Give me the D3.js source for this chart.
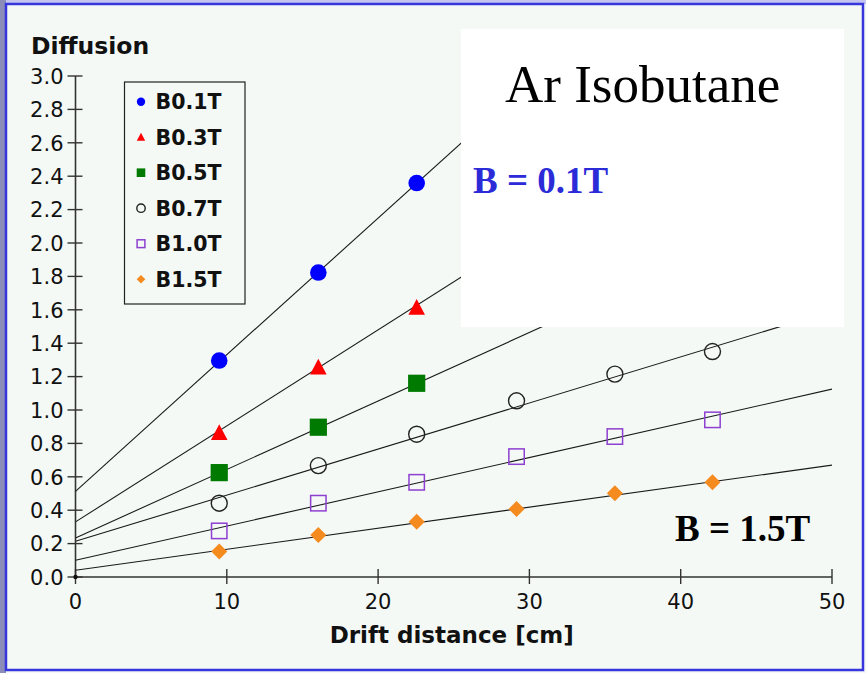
<!DOCTYPE html>
<html>
<head>
<meta charset="utf-8">
<script src="https://cdn.jsdelivr.net/npm/d3@7"></script>
<style>
  html, body { margin: 0; padding: 0; background: #f4f9f6; }
  svg { display: block; }
</style>
</head>
<body>
<svg id="chart" width="866" height="673"></svg>
<script>
// Drift distances [cm] where diffusion was measured
const drift = [9.5, 16.05, 22.55, 29.15, 35.65, 42.1];

// Field settings, in legend order
const seriesNames = ["B0.1T", "B0.3T", "B0.5T", "B0.7T", "B1.0T", "B1.5T"];

// Measured diffusion per field setting (low fields only reach 22.5 cm)
const diffB01 = [1.296, 1.823, 2.359];
const diffB03 = [0.862, 1.255, 1.612];
const diffB05 = [0.625, 0.897, 1.160];
const diffB07 = [0.442, 0.667, 0.855, 1.055, 1.215, 1.350];
const diffB10 = [0.276, 0.442, 0.567, 0.721, 0.841, 0.941];
const diffB15 = [0.152, 0.252, 0.331, 0.407, 0.501, 0.567];

// Small measurement uncertainties (visible as ticks in open markers)
const errB07 = [0.012, 0.012, 0.012, 0.012, 0.012, 0.012];
const errB10 = [0.012, 0.012, 0.012, 0.012, 0.012, 0.012];

// Linear fit per field setting: diffusion = intercept + slope * drift
const fitIntercept = [0.513, 0.330, 0.234, 0.214, 0.100, 0.040];
const fitSlope     = [0.0818, 0.0575, 0.0410, 0.0276, 0.0205, 0.0126];

// Axis ticks
const xTicks = [0, 10, 20, 30, 40, 50];
const yTicks = [0.0, 0.2, 0.4, 0.6, 0.8, 1.0, 1.2, 1.4, 1.6, 1.8, 2.0, 2.2, 2.4, 2.6, 2.8, 3.0];

const seriesValues = [diffB01, diffB03, diffB05, diffB07, diffB10, diffB15];
const seriesErrors = [null, null, null, errB07, errB10, null];

const styles = [
  { shape: "circle",   fill: "#0000ff", stroke: "none",    errColor: "#000" },
  { shape: "triangle", fill: "#ff0000", stroke: "none",    errColor: "#000" },
  { shape: "square",   fill: "#007a00", stroke: "none",    errColor: "#000" },
  { shape: "ocircle",  fill: "none",    stroke: "#222222", errColor: "#222" },
  { shape: "osquare",  fill: "none",    stroke: "#8e3fd0", errColor: "#8e3fd0" },
  { shape: "diamond",  fill: "#f58a1f", stroke: "none",    errColor: "#000" }
];

const svg = d3.select("#chart");
const W = 866, H = 673;

// Page background and frame
svg.append("rect").attr("x", 0).attr("y", 0).attr("width", W).attr("height", H).attr("fill", "#f4f9f6");
svg.append("rect").attr("x", 0).attr("y", 0).attr("width", W).attr("height", 4).attr("fill", "#c3c5f0");
svg.append("rect").attr("x", 0).attr("y", 0).attr("width", 6).attr("height", H).attr("fill", "#8b8db8");
svg.append("rect").attr("x", 6).attr("y", 4).attr("width", W - 9).attr("height", H - 7)
  .attr("fill", "none").attr("stroke", "#3636dc").attr("stroke-width", 2.5);

const x = d3.scaleLinear().domain([0, 50]).range([75.5, 832]);
const y = d3.scaleLinear().domain([0, 3]).range([577, 76]);

const axisColor = "#333333";
const tickFont = "'DejaVu Sans', Verdana, sans-serif";

// Plot-area clip so fit lines stop at the axis range
svg.append("defs").append("clipPath").attr("id", "plot-clip")
  .append("rect").attr("x", x(0)).attr("y", y(3)).attr("width", x(50) - x(0)).attr("height", y(0) - y(3));

// Y axis
const gy = svg.append("g");
gy.append("line").attr("x1", x(0)).attr("x2", x(0)).attr("y1", y(0)).attr("y2", y(3))
  .attr("stroke", axisColor).attr("stroke-width", 1.6);
gy.selectAll("line.tick").data(yTicks).join("line").attr("class", "tick")
  .attr("x1", x(0) - 8).attr("x2", x(0) + 7)
  .attr("y1", d => y(d)).attr("y2", d => y(d))
  .attr("stroke", axisColor).attr("stroke-width", 1.4);
gy.selectAll("text").data(yTicks).join("text")
  .attr("x", 63.5).attr("y", d => y(d) + 7.8)
  .attr("text-anchor", "end")
  .attr("font-family", tickFont).attr("font-size", 21)
  .attr("fill", "#111")
  .text(d => d3.format(".1f")(d));

// X axis
const gx = svg.append("g");
gx.append("line").attr("x1", x(0)).attr("x2", x(50)).attr("y1", y(0)).attr("y2", y(0))
  .attr("stroke", axisColor).attr("stroke-width", 1.6);
gx.selectAll("line.tick").data(xTicks).join("line").attr("class", "tick")
  .attr("x1", d => x(d)).attr("x2", d => x(d))
  .attr("y1", y(0) - 8).attr("y2", y(0) + 7)
  .attr("stroke", axisColor).attr("stroke-width", 1.4);
gx.selectAll("text").data(xTicks).join("text")
  .attr("x", d => x(d)).attr("y", 609)
  .attr("text-anchor", "middle")
  .attr("font-family", tickFont).attr("font-size", 21)
  .attr("fill", "#111")
  .text(d => d);
svg.append("circle").attr("cx", x(0)).attr("cy", y(0)).attr("r", 2.2).attr("fill", "#111");

// Axis titles
svg.append("text").attr("x", 31).attr("y", 54)
  .attr("font-family", tickFont).attr("font-weight", "bold").attr("font-size", 23.5)
  .attr("fill", "#111").text("Diffusion");
svg.append("text").attr("x", (x(0) + x(50)) / 2 - 2).attr("y", 643)
  .attr("text-anchor", "middle")
  .attr("font-family", tickFont).attr("font-weight", "bold").attr("font-size", 23)
  .attr("fill", "#111").text("Drift distance [cm]");

// Fit lines across the full drift range
const gl = svg.append("g").attr("clip-path", "url(#plot-clip)");
seriesNames.forEach((name, i) => {
  const pts = [0, 50].map(d => [x(d), y(fitIntercept[i] + fitSlope[i] * d)]);
  gl.append("path").attr("d", d3.line()(pts))
    .attr("fill", "none").attr("stroke", "#1a1a1a").attr("stroke-width", 1.1);
});

// Marker drawing helper
function marker(g, shape, cx, cy, s, st) {
  if (shape === "circle" || shape === "ocircle") {
    g.append("circle").attr("cx", cx).attr("cy", cy).attr("r", s)
      .attr("fill", st.fill).attr("stroke", st.stroke).attr("stroke-width", 1.4);
  } else if (shape === "square" || shape === "osquare") {
    const o = shape === "osquare" ? 0.6 : 0;
    g.append("rect").attr("x", cx - s + o).attr("y", cy - s + o)
      .attr("width", 2 * s - 2 * o).attr("height", 2 * s - 2 * o)
      .attr("fill", st.fill).attr("stroke", st.stroke).attr("stroke-width", 1.5);
  } else if (shape === "triangle") {
    const pts = [[cx, cy - s * 1.05], [cx + s, cy + s * 0.85], [cx - s, cy + s * 0.85]];
    g.append("path").attr("d", d3.line()(pts) + "Z").attr("fill", st.fill);
  } else if (shape === "diamond") {
    const pts = [[cx, cy - s], [cx + s, cy], [cx, cy + s], [cx - s, cy]];
    g.append("path").attr("d", d3.line()(pts) + "Z").attr("fill", st.fill);
  }
}

// Data points
const gp = svg.append("g");
const plotSize = { circle: 8.3, triangle: 8.3, square: 8.6, ocircle: 8.0, osquare: 8.3, diamond: 8.0 };
seriesValues.forEach((vals, i) => {
  const st = styles[i];
  vals.forEach((v, j) => {
    const cx = x(drift[j]), cy = y(v);
    marker(gp, st.shape, cx, cy, plotSize[st.shape], st);
    const err = seriesErrors[i];
    if (err) {
      gp.append("line").attr("x1", cx).attr("x2", cx)
        .attr("y1", y(v + err)).attr("y2", y(v - err))
        .attr("stroke", st.errColor).attr("stroke-width", 1.3);
    }
  });
});

// Annotation panel
svg.append("rect").attr("x", 461).attr("y", 29).attr("width", 383).attr("height", 298).attr("fill", "#ffffff");
svg.append("text").attr("x", 505).attr("y", 101.5)
  .attr("font-family", "'Liberation Serif', 'Times New Roman', serif").attr("font-size", 53)
  .attr("fill", "#000").text("Ar Isobutane");
svg.append("text").attr("x", 473).attr("y", 193)
  .attr("font-family", "'Liberation Serif', 'Times New Roman', serif").attr("font-weight", "bold").attr("font-size", 37)
  .attr("fill", "#2b2bd8").text("B = 0.1T");
svg.append("text").attr("x", 675).attr("y", 540.5)
  .attr("font-family", "'Liberation Serif', 'Times New Roman', serif").attr("font-weight", "bold").attr("font-size", 37)
  .attr("fill", "#000").text("B = 1.5T");

// Legend
const gLeg = svg.append("g");
gLeg.append("rect").attr("x", 124.5).attr("y", 82).attr("width", 120.5).attr("height", 222)
  .attr("fill", "none").attr("stroke", "#222").attr("stroke-width", 1.2);
const legSize = { circle: 4.2, triangle: 4.2, square: 4.3, ocircle: 4.2, osquare: 4.5, diamond: 4.3 };
seriesNames.forEach((name, i) => {
  const cy = 101.7 + i * 35.5;
  marker(gLeg, styles[i].shape, 141, cy, legSize[styles[i].shape], styles[i]);
  gLeg.append("text").attr("x", 155.5).attr("y", cy + 7.5)
    .attr("font-family", tickFont).attr("font-weight", "bold").attr("font-size", 20.5)
    .attr("fill", "#111").text(name);
});
</script>
</body>
</html>
